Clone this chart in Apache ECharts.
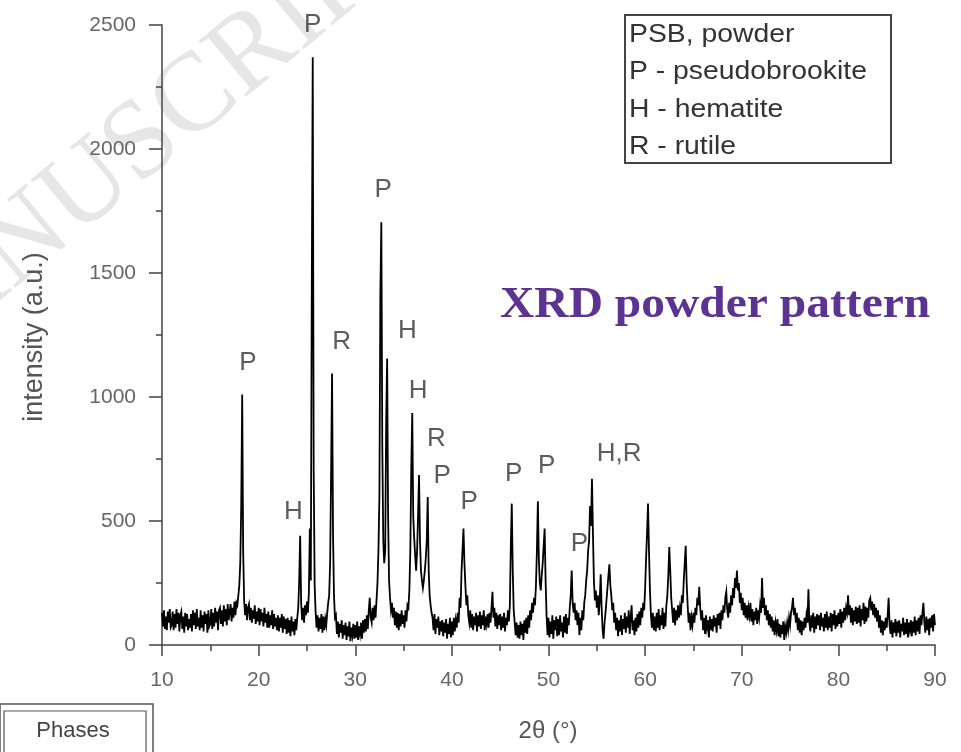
<!DOCTYPE html>
<html>
<head>
<meta charset="utf-8">
<script src="https://cdn.jsdelivr.net/npm/echarts@6/dist/echarts.min.js"></script>
<style>html,body{margin:0;padding:0;background:#fff}#chart{width:961px;height:752px}</style>
</head>
<body>
<div id="chart"></div>
<script>
// scan: 2theta from 10.0 to 90.0 deg, step 0.1 deg
var scanStart = 10;
var scanStep = 0.1;
var intensity = [
130,75,140,65,115,60,135,90,145,70,
80,135,60,125,70,145,85,130,55,120,
135,65,115,50,130,75,125,60,105,70,
125,55,140,80,130,65,145,75,110,60,
140,70,120,55,135,85,125,50,140,75,
85,145,65,130,75,150,90,135,60,140,
150,85,140,75,160,95,145,80,165,100,
105,165,95,150,110,175,120,170,160,200,
240,330,560,1010,380,180,120,165,100,150,
165,100,150,90,140,105,160,85,135,95,
150,80,145,95,130,75,150,90,125,70,
135,70,120,80,140,65,125,75,110,60,
120,55,110,70,125,50,115,65,105,45,
110,50,100,35,115,55,95,40,105,60,
110,150,260,440,170,100,150,90,160,120,
175,130,210,470,260,1430,2370,700,240,130,
70,120,55,110,65,125,50,115,60,105,
80,130,170,200,330,690,1095,450,200,110,
120,45,95,30,85,50,100,25,80,40,
90,20,75,35,95,15,70,40,85,25,
80,30,95,20,75,45,90,25,100,50,
105,55,120,65,140,190,110,90,150,100,
160,110,180,250,380,600,1420,1705,800,420,
330,380,900,1155,520,260,190,140,170,110,
150,80,135,70,130,60,125,75,140,85,
120,70,140,95,160,150,220,380,720,935,
520,430,360,300,380,520,685,420,300,260,
230,260,300,350,420,597,300,200,160,130,
110,60,125,45,105,70,115,40,95,55,
100,35,90,50,105,25,85,45,110,30,
95,40,110,55,100,70,130,90,190,150,
300,380,470,330,240,160,200,120,90,140,
70,125,60,115,80,130,55,120,75,135,
65,120,80,140,60,115,85,125,70,130,
90,150,215,110,150,75,130,65,120,80,
125,60,115,70,130,55,110,80,140,95,
160,400,570,300,140,90,40,90,30,80,
25,95,40,85,20,100,50,110,45,120,
70,140,100,170,130,190,160,240,380,580,
350,250,220,280,330,400,470,260,120,40,
110,30,95,45,120,25,100,60,115,35,
105,40,120,55,90,30,115,50,125,45,
110,80,150,200,300,170,130,170,100,140,
80,130,40,110,60,140,100,170,200,260,
300,380,420,560,480,670,450,260,180,220,
150,200,120,180,285,150,60,25,90,130,
180,230,280,325,240,200,140,170,90,130,
60,110,35,100,55,120,40,105,65,130,
50,115,70,140,45,110,160,60,100,40,
110,55,125,70,135,80,150,110,170,140,
230,350,450,570,380,220,120,70,130,60,
115,55,130,70,145,60,120,80,150,65,
130,75,160,200,280,395,300,190,140,90,
150,80,140,100,160,110,150,120,200,170,
260,330,400,250,160,90,130,60,110,80,
130,90,150,120,190,160,235,150,100,140,
60,110,45,120,70,100,30,115,60,105,
55,120,75,110,50,125,80,130,65,140,
100,160,130,190,215,140,110,170,130,200,
160,230,190,270,230,300,220,250,170,210,
140,190,120,170,110,160,100,150,120,170,
95,145,80,135,100,150,85,140,110,160,
130,270,150,190,120,160,100,140,80,125,
70,115,55,100,40,90,60,105,35,85,
30,80,45,95,20,75,50,90,60,110,
80,130,150,190,120,150,90,130,60,110,
50,100,40,95,60,110,70,120,90,225,
90,55,120,70,130,50,115,65,125,80,
120,60,130,75,110,55,125,70,135,60,
115,70,130,55,125,80,140,65,120,75,
130,85,145,70,135,90,150,100,150,130,
200,120,160,90,150,80,140,95,155,85,
150,90,160,75,145,100,170,85,155,95,
150,110,180,190,140,175,120,165,110,150,
95,140,70,120,50,100,40,95,60,110,
70,120,190,80,45,100,30,90,50,105,
35,95,50,100,30,85,55,110,40,90,
45,105,30,90,60,100,35,95,50,115,
40,100,55,110,45,120,80,130,170,90,
50,115,60,105,40,110,70,120,55,125,
80
];

// phase labels placed in data coordinates (2theta, intensity)
var phaseLabelText = ['P','H','P','R','P','H','H','R','P','P','P','P','P','H,R'];
var phaseLabelTheta = [18.9,23.6,25.6,28.6,32.9,35.4,36.5,38.4,39.0,41.8,46.4,49.8,53.2,57.3];
var phaseLabelIntensity = [1137,536,2500,1222,1835,1266,1024,831,681,577,689,722,407,770];

var xTicks = {min:10, max:90, step:10};
var yTicks = {min:0, max:2500, step:500};

var legendLines = ['PSB, powder','P - pseudobrookite','H - hematite','R - rutile'];

var scanData = intensity.map(function (v, i) {
  return [+(scanStart + i * scanStep).toFixed(1), v];
});
var labelData = phaseLabelText.map(function (t, i) {
  return {name: t, value: [phaseLabelTheta[i], phaseLabelIntensity[i]]};
});

var axisColor = '#444';
var chart = echarts.init(document.getElementById('chart'));

var legendGraphics = legendLines.map(function (t, i) {
  return {
    type: 'text', x: 629, y: 35 + i * 37.3, scaleX: 1.09, z: 20,
    style: {text: t, font: '26px "Liberation Sans", Arial, sans-serif', fill: '#333',
            textAlign: 'left', textVerticalAlign: 'middle'}
  };
});

chart.setOption({
  animation: false,
  backgroundColor: '#fff',
  grid: {left: 162, right: 26, top: 25, bottom: 107, containLabel: false},
  xAxis: {
    type: 'value', min: xTicks.min, max: xTicks.max, interval: xTicks.step,
    axisLine: {show: true, onZero: false, lineStyle: {color: axisColor, width: 1.5}},
    axisTick: {show: true, length: 11, lineStyle: {color: axisColor, width: 1.5}},
    minorTick: {show: true, splitNumber: 2, length: 6, lineStyle: {color: axisColor, width: 1.5}},
    splitLine: {show: false},
    axisLabel: {color: '#666', fontSize: 21, margin: 25, fontFamily: '"Liberation Sans", Arial, sans-serif',
                formatter: function (v) { return String(v); }}
  },
  yAxis: {
    type: 'value', min: yTicks.min, max: yTicks.max, interval: yTicks.step,
    axisLine: {show: true, onZero: false, lineStyle: {color: axisColor, width: 1.5}},
    axisTick: {show: true, length: 13, lineStyle: {color: axisColor, width: 1.5}},
    minorTick: {show: true, splitNumber: 2, length: 6, lineStyle: {color: axisColor, width: 1.5}},
    splitLine: {show: false},
    axisLabel: {color: '#666', fontSize: 21, margin: 26, fontFamily: '"Liberation Sans", Arial, sans-serif',
                formatter: function (v) { return String(v); }}
  },
  series: [
    {
      type: 'line', data: scanData, showSymbol: false, symbol: 'none',
      sampling: false, smooth: false, clip: true, z: 5,
      lineStyle: {color: '#000', width: 1.8, join: 'miter'}
    },
    {
      type: 'scatter', data: labelData, symbolSize: 0, clip: false, z: 10,
      silent: true,
      label: {show: true, position: 'inside', formatter: '{b}', color: '#333',
              fontSize: 26, fontFamily: '"Liberation Sans", Arial, sans-serif'}
    }
  ],
  graphic: [
    {
      type: 'text', x: -145, y: 382, rotation: 0.691, z: 0, silent: true,
      style: {text: 'MANUSCRIPT', font: '112px "Liberation Serif", "Times New Roman", serif',
              fill: '#e6e6e6', textAlign: 'left', textVerticalAlign: 'middle'}
    },
    {
      type: 'rect', z: 15, shape: {x: 625, y: 15, width: 266, height: 148},
      style: {fill: '#fff', stroke: '#444', lineWidth: 2}
    }
  ].concat(legendGraphics).concat([
    {
      type: 'text', x: 500, y: 306, scaleX: 1.08, z: 20,
      style: {text: 'XRD powder pattern', font: 'bold 44px "Liberation Serif", "Times New Roman", serif',
              fill: '#5c3391', textAlign: 'left', textVerticalAlign: 'middle'}
    },
    {
      type: 'text', x: 35, y: 337, rotation: Math.PI / 2, z: 20,
      style: {text: 'intensity (a.u.)', font: '27px "Liberation Sans", Arial, sans-serif',
              fill: '#555', textAlign: 'center', textVerticalAlign: 'middle'}
    },
    {
      type: 'text', x: 548, y: 731, z: 20,
      style: {text: '2θ (°)', font: '24px "Liberation Sans", Arial, sans-serif',
              fill: '#555', textAlign: 'center', textVerticalAlign: 'middle'}
    },
    {
      type: 'rect', z: 20, shape: {x: 0, y: 704, width: 153, height: 60},
      style: {fill: '#fff', stroke: '#555', lineWidth: 1.5}
    },
    {
      type: 'rect', z: 21, shape: {x: 4, y: 711, width: 142, height: 60},
      style: {fill: 'none', stroke: '#555', lineWidth: 1.2}
    },
    {
      type: 'text', x: 73, y: 731, z: 22,
      style: {text: 'Phases', font: '22px "Liberation Sans", Arial, sans-serif',
              fill: '#444', textAlign: 'center', textVerticalAlign: 'middle'}
    }
  ])
});
</script>
</body>
</html>
